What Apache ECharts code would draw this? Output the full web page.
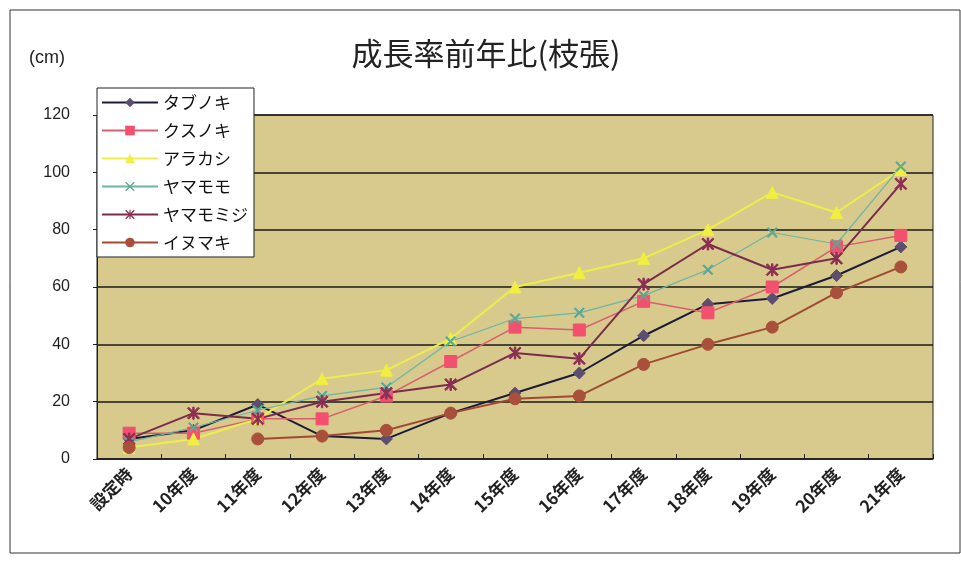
<!DOCTYPE html>
<html>
<head>
<meta charset="utf-8">
<script src="https://cdn.jsdelivr.net/npm/echarts@6/dist/echarts.min.js"></script>
<style>
html,body{margin:0;padding:0;background:#fff;}
#c{width:961px;height:561px;}
</style>
</head>
<body>
<div id="c"></div>
<script>
var categories = ['設定時','10年度','11年度','12年度','13年度','14年度','15年度','16年度','17年度','18年度','19年度','20年度','21年度'];
var tabunoki   = [7, 10, 19, 8, 7, 16, 23, 30, 43, 54, 56, 64, 74];
var kusunoki   = [9, 9, 14, 14, 22, 34, 46, 45, 55, 51, 60, 74, 78];
var arakashi   = [4, 7, 14, 28, 31, 42, 60, 65, 70, 80, 93, 86, 101];
var yamamomo   = [6, 11, 17, 22, 25, 41, 49, 51, 57, 66, 79, 75, 102];
var yamamomiji = [7, 16, 14, 20, 23, 26, 37, 35, 61, 75, 66, 70, 96];
var inumaki    = [4, null, 7, 8, 10, 16, 21, 22, 33, 40, 46, 58, 67];
var yTicks = [0, 20, 40, 60, 80, 100, 120];

var FONT = '"Noto Sans CJK JP", "Noto Sans", sans-serif';
var NUMFONT = '"Liberation Sans", Arial, sans-serif';
var X_PATH = 'path://M1,0L5,4L9,0L10,1L6,5L10,9L9,10L5,6L1,10L0,9L4,5L0,1Z';
var STAR_PATH = 'path://M1,0L5,4L9,0L10,1L6,5L10,9L9,10L5,6L1,10L0,9L4,5L0,1Z M4.4,0H5.6V10H4.4Z';

function mk(name, data, lineColor, markColor, symbol, size, lw) {
  return {
    name: name, type: 'line', data: data,
    symbol: symbol, symbolSize: size,
    connectNulls: false,
    lineStyle: {color: lineColor, width: lw},
    itemStyle: {color: markColor, borderColor: markColor},
    emphasis: {disabled: true},
    animation: false
  };
}

var chart = echarts.init(document.getElementById('c'));
chart.setOption({
  animation: false,
  backgroundColor: '#ffffff',
  title: {
    text: '成長率前年比(枝張)',
    left: 481, top: 33, textAlign: 'center',
    textStyle: {fontFamily: FONT, fontSize: 31, fontWeight: 'normal', color: '#222'}
  },
  graphic: [
    {type: 'rect', shape: {x: 10, y: 10, width: 950, height: 543},
     style: {fill: 'none', stroke: '#333', lineWidth: 1}, silent: true},
    {type: 'text', left: 29, top: 49,
     style: {text: '(cm)', fontFamily: NUMFONT, fontSize: 18, fill: '#222'}}
  ],
  legend: {
    orient: 'vertical', left: 97, top: 88,
    backgroundColor: '#ffffff', borderColor: '#222', borderWidth: 1,
    padding: [6, 6, 6, 4],
    itemWidth: 56, itemHeight: 12, itemGap: 11,
    textStyle: {fontFamily: FONT, fontSize: 17, color: '#111'},
    data: ['タブノキ','クスノキ','アラカシ','ヤマモモ','ヤマモミジ','イヌマキ']
  },
  grid: {
    left: 97, right: 28, top: 115, bottom: 102,
    show: true, backgroundColor: '#d7ca8c', borderColor: '#222', borderWidth: 1
  },
  xAxis: {
    type: 'category', data: categories, boundaryGap: true,
    axisLine: {lineStyle: {color: '#222', width: 1.5}},
    axisTick: {show: true, inside: true, length: 5, lineStyle: {color: '#222'}},
    axisLabel: {rotate: 45, fontFamily: FONT, fontSize: 17, fontWeight: 'bold', color: '#222', margin: 12}
  },
  yAxis: {
    type: 'value', min: yTicks[0], max: yTicks[yTicks.length - 1], interval: 20,
    axisLine: {show: true, lineStyle: {color: '#222'}},
    axisTick: {show: true, length: 4, lineStyle: {color: '#222'}},
    axisLabel: {fontFamily: NUMFONT, fontSize: 16, color: '#222', margin: 27},
    splitLine: {show: true, lineStyle: {color: '#1a1a1a', width: 1.5}}
  },
  series: [
    mk('タブノキ', tabunoki, '#1c1c3a', '#5c4e70', 'diamond', 12, 2),
    mk('クスノキ', kusunoki, '#d8606e', '#f2506e', 'rect', 12, 1.5),
    mk('アラカシ', arakashi, '#eeee4a', '#f0ee40', 'triangle', 12, 2),
    mk('ヤマモモ', yamamomo, '#6cb4a4', '#5aa898', X_PATH, 10, 1.2),
    mk('ヤマモミジ', yamamomiji, '#7a2c4c', '#8e2e54', STAR_PATH, 12, 2),
    mk('イヌマキ', inumaki, '#a04a34', '#a8503a', 'circle', 12, 2)
  ]
});
</script>
</body>
</html>
